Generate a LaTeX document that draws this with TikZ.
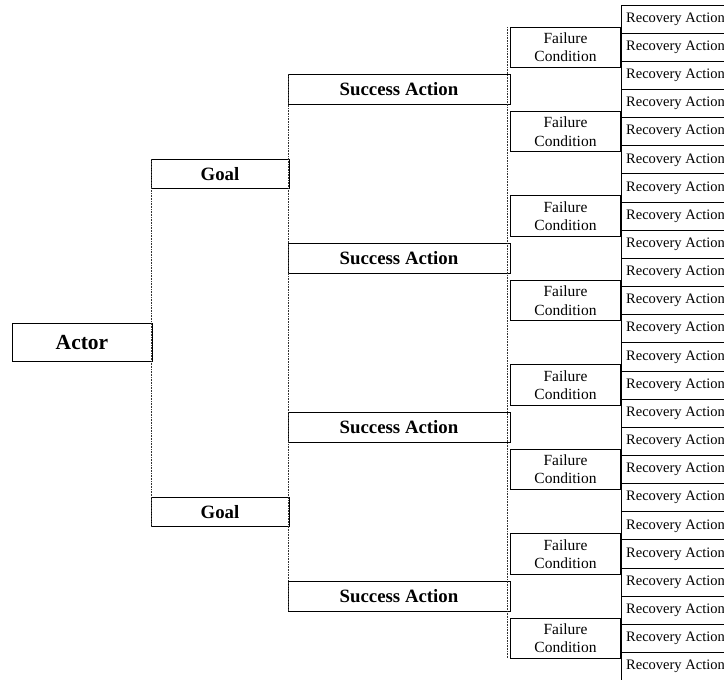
\documentclass[tikz,border=0pt]{standalone}
\usepackage{fontspec}
\setmainfont{Liberation Serif}

\begin{document}
\begin{tikzpicture}[x=1pt, y=-1pt,
box/.style={draw, line width=.9pt, inner sep=0, outer sep=0, anchor=west, align=center},
recovery/.style={box, minimum width=109pt, minimum height=28.15pt, font=\fontsize{14.5}{17}\selectfont},
failure/.style={box, minimum width=110pt, minimum height=40.5pt, font=\fontsize{15.5}{18.4}\selectfont},
success/.style={box, minimum width=222pt, minimum height=30pt, font=\bfseries\fontsize{18.8}{22}\selectfont},
goal/.style={box, minimum width=138pt, minimum height=29pt, font=\bfseries\fontsize{18.8}{22}\selectfont},
actor/.style={box, minimum width=140pt, minimum height=38pt, font=\bfseries\fontsize{21.5}{25}\selectfont},
link/.style={densely dotted, line width=.6pt, black!80},
]
\useasboundingbox (0,0) rectangle (724,680); %%%%%%% SIZE OF THE PICTURE

%%%%%%%%%%%%%%%%%%%%%%%% BOXES %%%%%%%%%%%%%%%%%%%%%%%%%%%
\node[actor] (actor) at (12,342.8) {Actor};
\foreach \g in {1,2}
  \node[goal] (goal\g) at (151,{173.9+337.8*(\g-1)}) {Goal};
\foreach \i in {1,...,4}
  \node[success] (sa\i) at (288,{89.4+168.9*(\i-1)}) {Success Action};
\foreach \j in {1,...,8}
  \node[failure] (fc\j) at (510.5,{47.2+84.45*(\j-1)}) {Failure\\Condition};
\foreach \k in {1,...,24}
  \node[recovery] (ra\k) at (621,{19.1+28.15*(\k-1)}) {Recovery Action};

%%%%%%%%%%%%%%%%%%%%%%%% CONNECTORS %%%%%%%%%%%%%%%%%%%%%%%%%%%
\draw[link] (goal1.north west) -- (goal2.south west);
\draw[link] (sa1.north west) -- (sa4.south west);
\draw[link] ([xshift=-3pt]fc1.north west) -- ([xshift=-3pt]fc8.south west);
\end{tikzpicture}
\end{document}
